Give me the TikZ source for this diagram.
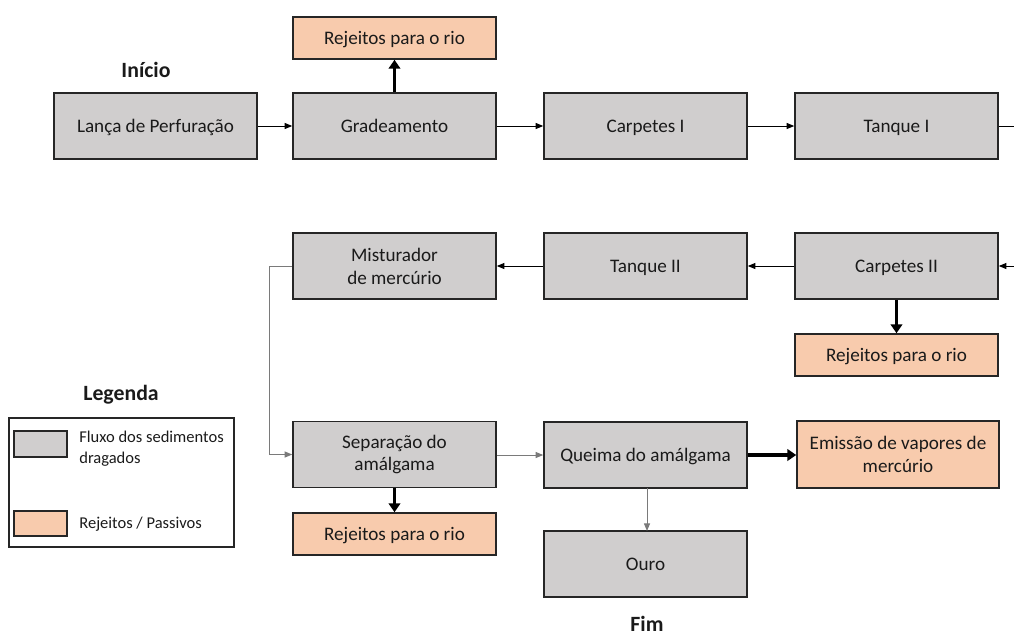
\documentclass[tikz,border=0pt]{standalone}
\usepackage{fontspec}
\setmainfont{Carlito}
\usetikzlibrary{arrows.meta}
\definecolor{boxgrey}{HTML}{D0CECE}
\definecolor{boxorange}{HTML}{F8CBAD}
\definecolor{edgedark}{HTML}{262626}
\definecolor{txtdark}{HTML}{1A1A1A}
\definecolor{linegrey}{HTML}{7A7A7A}
\begin{document}
\begin{tikzpicture}[x=0.02cm,y=-0.02cm,
  base/.style={draw=edgedark,line width=0.9pt,text=txtdark,align=center,inner sep=0pt,
    font=\fontsize{10.9}{13}\selectfont},
  oneline/.style={text height=7.6pt,text depth=0pt},
  flowbox/.style={base,fill=boxgrey,minimum width=4.06cm,minimum height=1.32cm},
  wastebox/.style={base,fill=boxorange,minimum width=4.06cm,minimum height=0.84cm},
  thinarrow/.style={draw=black,line width=0.55pt,-{Triangle[length=4.3pt,width=3.4pt]}},
  greyarrow/.style={draw=linegrey,line width=0.55pt,-{Triangle[length=4.3pt,width=3.4pt]}},
  thickarrow/.style={draw=black,line width=1.8pt,-{Triangle[length=5pt,width=6.5pt]}},
  title/.style={font=\fontsize{12.4}{14}\selectfont\bfseries,text=txtdark},
  legtext/.style={font=\fontsize{9.4}{12}\selectfont,text=txtdark,align=left,anchor=west,inner sep=0pt}
]
\useasboundingbox (0,0) rectangle (1014,637);

\node[title] (inicio) at (146,70) {Início};
\node[title] (fim) at (647,624) {Fim};

% row 1
\node[flowbox,oneline] (lanca) at (155.5,126) {Lança de Perfuração};
\node[flowbox,oneline] (grade) at (394.5,126) {Gradeamento};
\node[wastebox,oneline] (rej1) at (394.5,38) {Rejeitos para o rio};
\node[flowbox,oneline] (carp1) at (645.5,126) {Carpetes I};
\node[flowbox,oneline] (tanq1) at (896.5,126) {Tanque I};

% row 2
\node[flowbox] (mist) at (394.5,266) {Misturador\\de mercúrio};
\node[flowbox,oneline] (tanq2) at (645.5,266) {Tanque II};
\node[flowbox,oneline] (carp2) at (896.5,266) {Carpetes II};
\node[wastebox,oneline] (rej2) at (896.5,355) {Rejeitos para o rio};

% row 3
\node[flowbox] (sep) at (394.5,454.5) {Separação do\\amálgama};
\node[wastebox,oneline] (rej3) at (394.5,534) {Rejeitos para o rio};
\node[flowbox,oneline] (queima) at (645.5,455) {Queima do amálgama};
\node[base,fill=boxorange,minimum width=4.04cm,minimum height=1.34cm] (emis) at (898,454.5) {Emissão de vapores de\\mercúrio};
\node[flowbox,oneline] (ouro) at (645.5,564) {Ouro};

% connectors row 1
\draw[thinarrow] (lanca) -- (grade);
\draw[thinarrow] (grade) -- (carp1);
\draw[thinarrow] (carp1) -- (tanq1);
\draw[thickarrow] (grade.north) -- (rej1.south);
\coordinate (edge1) at (1014,126);
\draw[draw=black,line width=0.55pt] (tanq1.east) -- (edge1);

% row 2
\coordinate (edge2) at (1014,266);
\draw[thinarrow] (edge2) -- (carp2.east);
\draw[thinarrow] (carp2) -- (tanq2);
\draw[thinarrow] (tanq2) -- (mist);
\draw[thickarrow] (carp2.south) -- (rej2.north);
\draw[greyarrow] (mist.west) -- (269,266) |- (sep.west);

% row 3
\draw[thickarrow] (sep.south) -- (rej3.north);
\draw[greyarrow] (sep.east |- queima.west) -- (queima.west);
\draw[thickarrow] (queima.east) -- (emis.west |- queima.east);
\draw[greyarrow] (647,488) -- (647,531);

% legend
\node[title] (legenda) at (121,395) {Legenda};
\draw[draw=edgedark,line width=0.7pt] (9,418) rectangle (234,547);
\node[draw=edgedark,line width=0.9pt,fill=boxgrey,minimum width=1.06cm,minimum height=0.52cm,inner sep=0pt] (lg1) at (40.5,444) {};
\node[draw=edgedark,line width=0.9pt,fill=boxorange,minimum width=1.06cm,minimum height=0.5cm,inner sep=0pt] (lg2) at (40.5,523.5) {};
\node[legtext] (lt1) at (79,449) {Fluxo dos sedimentos\\dragados};
\node[legtext] (lt2) at (79,524) {Rejeitos / Passivos};
\end{tikzpicture}
\end{document}
